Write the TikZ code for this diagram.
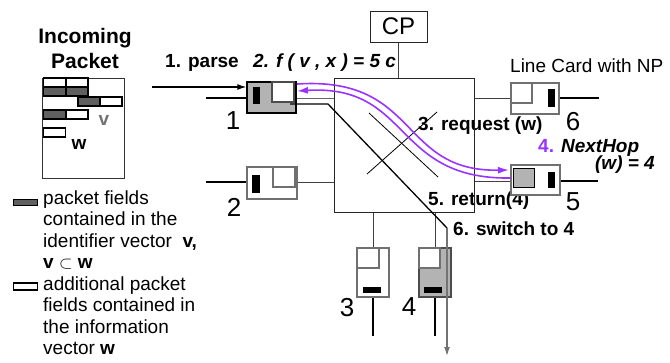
\documentclass[tikz,border=0pt]{standalone}
\usepackage{fontspec}
\setmainfont{Liberation Sans}
\usetikzlibrary{arrows.meta}
\definecolor{vio}{HTML}{9933FF}
\definecolor{fgray}{HTML}{606060}
\definecolor{cgray}{HTML}{B3B3B3}
\definecolor{bgray}{HTML}{707070}
\begin{document}
\begin{tikzpicture}[x=1pt,y=-1pt,
  font=\fontsize{19}{21.5}\selectfont,
  lbl/.style={inner sep=0,anchor=base west},
  bl/.style={inner sep=0,anchor=base west,font=\fontsize{19}{21.5}\selectfont\bfseries},
  num/.style={inner sep=0,font=\fontsize{26}{28}\selectfont},
  card/.style={draw=bgray,line width=1.3pt,fill=white,inner sep=0},
  sq/.style={draw=bgray,line width=1.2pt,fill=white,inner sep=0},
  bar/.style={fill=black,inner sep=0},
  wire/.style={line width=2.4pt},
  conn/.style={line width=0.9pt,draw=black!75},
  fld/.style={draw=black,line width=1.2pt,inner sep=0,minimum width=22pt,minimum height=9pt},
  dk/.style={fld,fill=fgray},
  wt/.style={fld,fill=white},
  pur/.style={draw=vio,line width=1.6pt}
]
\useasboundingbox (0,0) rectangle (670,362);

% Incoming packet
\node[inner sep=0,align=center,font=\fontsize{21}{25}\selectfont\bfseries] (inc) at (85,48) {Incoming\\Packet};
\node[draw=black!80,line width=1pt,minimum width=82pt,minimum height=100pt,inner sep=0] (pkt) at (83,128) {};
\node[wt] (f1) at (54.5,82.5) {};
\node[wt] (f2) at (77,82.5) {};
\node[dk] (f3) at (54.5,91.5) {};
\node[dk] (f4) at (77,91.5) {};
\node[dk] (f5) at (89,101.5) {};
\node[wt] (f6) at (111,101.5) {};
\node[dk] (f7) at (54.5,114.5) {};
\node[wt] (f8) at (77,114.5) {};
\node[wt] (f9) at (54.5,132.5) {};
\node[inner sep=0,text=black!55,font=\fontsize{19}{21}\selectfont\bfseries] (vv) at (104,120) {v};
\node[inner sep=0,font=\fontsize{19}{21}\selectfont\bfseries] (ww) at (79,144) {w};

% legend
\node[draw=black,line width=1.1pt,fill=fgray,minimum width=24pt,minimum height=6pt,inner sep=0] (lgd) at (25.5,202.5) {};
\node[draw=black,line width=1.1pt,fill=white,minimum width=24pt,minimum height=7pt,inner sep=0] (lgw) at (25.5,286.5) {};
\node[lbl] (la1) at (43,204) {packet fields};
\node[lbl] (la2) at (43,225.5) {contained in the};
\node[lbl] (la3) at (43,247) {identifier vector \ \textbf{v,}};
\node[lbl] (la4) at (43,268.5) {\textbf{v} $\subset$ \textbf{w}};
\node[lbl] (lb1) at (43,290) {additional packet};
\node[lbl] (lb2) at (43,311.5) {fields contained in};
\node[lbl] (lb3) at (43,333) {the information};
\node[lbl] (lb4) at (43,354) {vector \textbf{w}};

% step labels
\node[bl] (t1) at (165,67) {1. parse};
\node[bl,font=\fontsize{19}{21.5}\selectfont\bfseries\itshape] (t2) at (253,67) {2. f ( v , x ) = 5 c};
\node[bl] (t3) at (418,130) {3. request (w)};
\node[bl] (t4) at (538,152) {\textcolor{vio}{4.} \textit{NextHop}};
\node[bl,anchor=base east,font=\fontsize{19}{21.5}\selectfont\bfseries\itshape] (t4b) at (655,169) {(w) = 4};
\node[bl] (t5) at (428,205) {5. return(4)};
\node[bl] (t6) at (453,235) {6. switch to 4};
\node[lbl] (lc) at (510,72) {Line Card with NP};

% switch and CP
\node[draw=black!85,line width=1pt,minimum width=140pt,minimum height=134pt,inner sep=0] (sw) at (404,145) {};
\node[draw=black!85,line width=1pt,minimum width=57pt,minimum height=31pt,inner sep=0,font=\fontsize{24}{26}\selectfont] (cp) at (398.5,26.5) {CP};
\draw[conn] (cp.south) -- (cp.south |- sw.north);
\coordinate (xa) at (369,113);
\coordinate (xb) at (438,177);
\coordinate (xc) at (367,174);
\coordinate (xd) at (437,112);
\draw[line width=0.8pt] (xa) -- (xb);
\draw[line width=0.8pt] (xc) -- (xd);

% card 1
\node[card,draw=black,fill=cgray,minimum width=49pt,minimum height=31pt] (c1) at (271.5,97.5) {};
\node[sq,draw=black!70,anchor=north east,minimum width=22pt,minimum height=20pt] (c1s) at ([xshift=-2pt]c1.north east) {};
\node[bar,minimum width=7pt,minimum height=17pt] (c1b) at (256.5,95.5) {};
\coordinate (c1in) at (206,98);
\draw[wire] (c1.west |- c1in) -- (c1in);
\draw[conn,draw=black!60] (c1.east |- c1in) -- (sw.west |- c1in);
\node[num] (n1) at (233,121) {1};

% card 2
\node[card,minimum width=50pt,minimum height=32pt] (c2) at (272,183) {};
\node[sq,anchor=north east,minimum width=22pt,minimum height=20pt] (c2s) at ([xshift=-2pt]c2.north east) {};
\node[bar,minimum width=8pt,minimum height=18pt] (c2b) at (256,184) {};
\coordinate (c2in) at (206,182);
\draw[wire] (c2.west |- c2in) -- (c2in);
\draw[conn] (c2.east |- c2in) -- (sw.west |- c2in);
\node[num] (n2) at (234,207) {2};

% card 6
\node[card,minimum width=48pt,minimum height=31pt] (c6) at (535,98.5) {};
\node[sq,anchor=north west,minimum width=21pt,minimum height=20pt] (c6s) at (c6.north west) {};
\node[bar,minimum width=7pt,minimum height=18pt] (c6b) at (551.5,98) {};
\coordinate (c6out) at (599,98);
\draw[wire] (c6.east |- c6out) -- (c6out);
\draw[conn] (sw.east |- c6out) -- (c6.west |- c6out);
\node[num] (n6) at (573,122) {6};

% card 5
\node[card,minimum width=49pt,minimum height=30pt] (c5) at (535.5,180) {};
\node[sq,draw=black,line width=1.4pt,fill=cgray,minimum width=21pt,minimum height=19pt] (c5s) at (524,178) {};
\node[bar,minimum width=7pt,minimum height=16pt] (c5b) at (551.5,180) {};
\coordinate (c5out) at (598,181);
\draw[wire] (c5.east |- c5out) -- (c5out);
\draw[conn] (sw.east |- c5out) -- (c5.west |- c5out);
\node[num] (n5) at (573,202) {5};

% card 3
\node[card,minimum width=32pt,minimum height=49pt] (c3) at (373,272.5) {};
\node[sq,anchor=north west,minimum width=22pt,minimum height=20pt] (c3s) at (c3.north west) {};
\node[bar,minimum width=18pt,minimum height=6pt] (c3b) at (372,290) {};
\coordinate (c3out) at (373,336);
\draw[wire] (c3.south) -- (c3out);
\draw[conn] (c3.north) -- (c3.north |- sw.south);
\node[num] (n3) at (347,307.5) {3};

% card 4
\node[card,draw=black!70,fill=cgray,minimum width=32pt,minimum height=49pt] (c4) at (435,272.5) {};
\node[sq,anchor=north west,minimum width=21pt,minimum height=20pt] (c4s) at (c4.north west) {};
\node[bar,minimum width=18pt,minimum height=6pt] (c4b) at (433,290) {};
\coordinate (c4out) at (435,336);
\draw[wire] (c4.south) -- (c4out);
\draw[conn] (c4.north) -- (c4.north |- sw.south);
\node[num] (n4) at (409,307) {4};

% parse arrow
\coordinate (pin) at (152,87);
\draw[line width=1.2pt,-{Latex[length=9pt,width=6pt]}] (pin) -- (c1.west |- pin);

% switching path
\coordinate (sp0) at (290,104);
\coordinate (sp1) at (328,104);
\coordinate (sp2) at (447,228);
\coordinate (sp3) at (447,356);
\draw[line width=1.3pt] (sp0) -- (sp1) -- (sp2);
\draw[line width=1.3pt,draw=black!55,-{Latex[length=9pt,width=6pt]}] (sp2) -- (sp3);

% purple request / return
\coordinate (pu0) at (297,84);
\coordinate (pu1) at (509,170);
\coordinate (pl0) at (297,91);
\coordinate (pl1) at (511,178);
\draw[pur,-{Latex[length=11pt,width=7pt]}] (pu0) .. controls (420,76) and (398,172) .. (pu1);
\draw[pur,{Latex[length=11pt,width=7pt]}-] (pl0) .. controls (412,84) and (392,180) .. (pl1);
\end{tikzpicture}
\end{document}
